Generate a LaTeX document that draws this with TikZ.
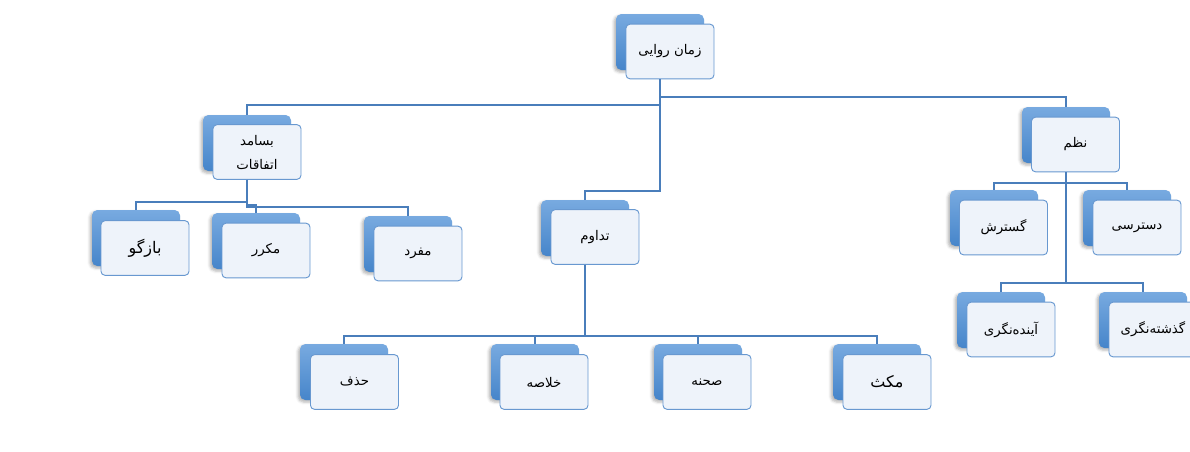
\documentclass[tikz,border=0pt]{standalone}
\usepackage{fontspec}
\usepackage{xcolor}
\usepackage{tikz}
\usetikzlibrary{shadows.blur}
\TeXXeTstate=1
\newfontfamily\arabicfont[Script=Arabic]{DejaVu Sans}
\newcommand{\fatxt}[1]{\arabicfont\beginR #1\endR}
\definecolor{linkblue}{RGB}{74,126,187}
\definecolor{backtop}{RGB}{120,170,224}
\definecolor{backbot}{RGB}{70,133,202}
\definecolor{cardfill}{RGB}{238,243,250}
\definecolor{cardedge}{RGB}{104,152,208}
\tikzset{
  cardback/.style={rounded corners=4pt, minimum width=66pt, minimum height=42pt,
    top color=backtop, bottom color=backbot, draw=none,
    blur shadow={shadow xshift=-1.5pt, shadow yshift=-1.5pt, shadow blur radius=2pt, shadow opacity=30}},
  cardfront/.style={rounded corners=3pt, minimum width=66pt, minimum height=41pt,
    fill=cardfill, draw=cardedge, line width=0.7pt, inner sep=1pt, align=center,
    font=\fontsize{10}{14}\selectfont},
  bigtext/.style={font=\fontsize{12}{15}\selectfont},
  link/.style={draw=linkblue, line width=1.8pt}
}

\begin{document}
\begin{tikzpicture}[x=0.75pt, y=-0.75pt]
    \useasboundingbox (0,0) rectangle (1190,451);
    % Root
    \node[cardback] (root-b) at (660,42) {};
    \node[cardfront] (root) at (670,51.5) {\fatxt{زمان روایی}};
    % Frequency branch
    \node[cardback] (bassamad-b) at (247,143) {};
    \node[cardfront] (bassamad) at (257,152) {\fatxt{بسامد}\\[4pt]\fatxt{اتفاقات}};
    \node[cardback] (bazgu-b) at (136,238) {};
    \node[cardfront, bigtext] (bazgu) at (145,248) {\fatxt{بازگو}};
    \node[cardback] (mokarrar-b) at (256,241) {};
    \node[cardfront] (mokarrar) at (266,250.5) {\fatxt{مکرر}};
    \node[cardback] (mofrad-b) at (408,244) {};
    \node[cardfront] (mofrad) at (418,253.5) {\fatxt{مفرد}};
    % Duration branch
    \node[cardback] (tadavom-b) at (585,228) {};
    \node[cardfront] (tadavom) at (595,237) {\fatxt{تداوم}};
    \node[cardback] (hazf-b) at (344,372) {};
    \node[cardfront] (hazf) at (354.5,382) {\fatxt{حذف}};
    \node[cardback] (kholase-b) at (535,372) {};
    \node[cardfront] (kholase) at (544,382) {\fatxt{خلاصه}};
    \node[cardback] (sahne-b) at (698,372) {};
    \node[cardfront] (sahne) at (707,382) {\fatxt{صحنه}};
    \node[cardback] (maks-b) at (877,372) {};
    \node[cardfront, bigtext] (maks) at (887,382) {\fatxt{مکث}};
    % Order branch
    \node[cardback] (nazm-b) at (1066,135) {};
    \node[cardfront] (nazm) at (1075.5,144.5) {\fatxt{نظم}};
    \node[cardback] (gostaresh-b) at (994,218) {};
    \node[cardfront] (gostaresh) at (1003.5,227.5) {\fatxt{گسترش}};
    \node[cardback] (dastresi-b) at (1127,218) {};
    \node[cardfront] (dastresi) at (1137,227.5) {\fatxt{دسترسی}};
    \node[cardback] (ayande-b) at (1001,320) {};
    \node[cardfront] (ayande) at (1011,329.5) {\fatxt{آینده‌نگری}};
    \node[cardback] (gozashte-b) at (1143,320) {};
    \node[cardfront] (gozashte) at (1153,329.5) {\fatxt{گذشته‌نگری}};
    % Connectors from root
    \draw[link] (root-b.south |- root.south) -- (root-b.south |- 0,97) -| (nazm-b.north);
    \draw[link] (root-b.south |- root.south) -- (root-b.south |- 0,105) -| (bassamad-b.north);
    \draw[link] (root-b.south |- root.south) -- (root-b.south |- 0,191) -| (tadavom-b.north);
    % Connectors from frequency
    \draw[link] (bassamad-b.south |- bassamad.south) -- (bassamad-b.south |- 0,202) -| (bazgu-b.north);
    \draw[link] (bassamad-b.south |- bassamad.south) -- (bassamad-b.south |- 0,205) -| (mokarrar-b.north);
    \draw[link] (bassamad-b.south |- bassamad.south) -- (bassamad-b.south |- 0,207) -| (mofrad-b.north);
    % Connectors from duration
    \foreach \kid in {hazf,kholase,sahne,maks}
        \draw[link] (tadavom-b.south |- tadavom.south) -- (tadavom-b.south |- 0,336) -| (\kid-b.north);
    % Connectors from order
    \foreach \kid in {gostaresh,dastresi}
        \draw[link] (nazm-b.south |- nazm.south) -- (nazm-b.south |- 0,183) -| (\kid-b.north);
    \foreach \kid in {ayande,gozashte}
        \draw[link] (nazm-b.south |- nazm.south) -- (nazm-b.south |- 0,283) -| (\kid-b.north);
\end{tikzpicture}
\end{document}
